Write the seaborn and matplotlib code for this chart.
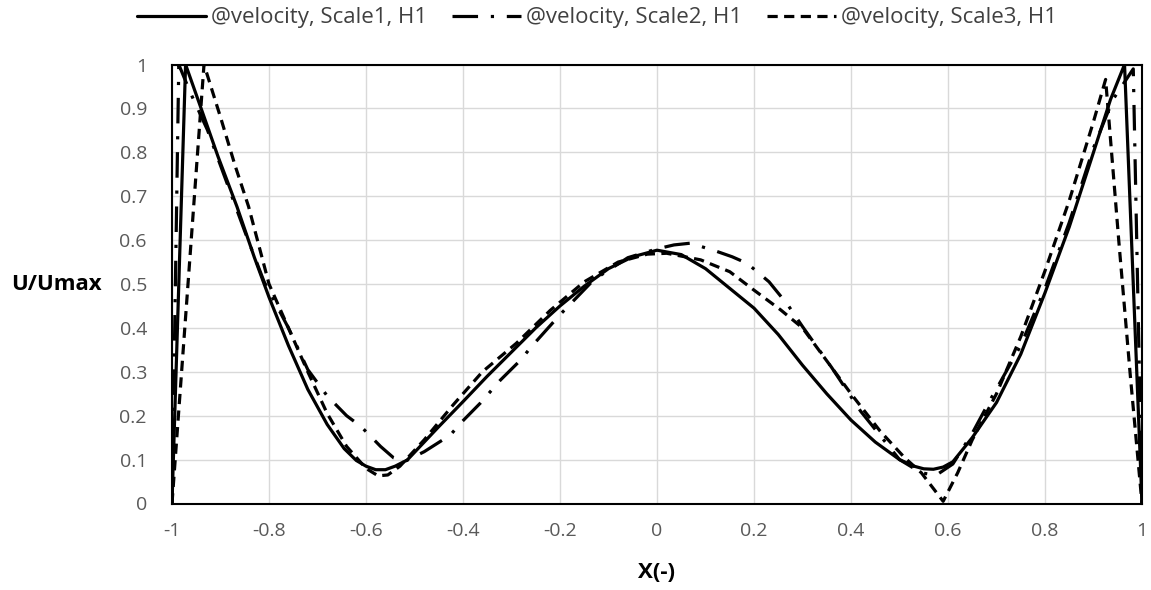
import matplotlib
matplotlib.use("Agg")
import matplotlib.pyplot as plt
import seaborn as sns
from matplotlib.ticker import FuncFormatter

# ---------------- data ----------------
series_labels = ["@velocity, Scale1, H1", "@velocity, Scale2, H1", "@velocity, Scale3, H1"]

x_scale1 = [-1.0, -0.972, -0.94, -0.905, -0.866, -0.83, -0.80, -0.76, -0.72, -0.68,
            -0.645, -0.62, -0.60, -0.58, -0.56, -0.54, -0.515, -0.45, -0.40, -0.35,
            -0.30, -0.25, -0.20, -0.15, -0.10, -0.05, 0.0, 0.05, 0.10, 0.15,
            0.20, 0.25, 0.30, 0.35, 0.40, 0.45, 0.50, 0.53, 0.55, 0.57,
            0.59, 0.61, 0.65, 0.70, 0.75, 0.80, 0.85, 0.90, 0.935, 0.964, 1.0]
y_scale1 = [0.0, 1.0, 0.9, 0.79, 0.676, 0.56, 0.47, 0.36, 0.26, 0.18,
            0.125, 0.098, 0.085, 0.077, 0.077, 0.085, 0.099, 0.175, 0.232, 0.29,
            0.345, 0.40, 0.45, 0.495, 0.535, 0.562, 0.577, 0.567, 0.535, 0.49,
            0.445, 0.385, 0.315, 0.25, 0.19, 0.14, 0.10, 0.085, 0.079, 0.078,
            0.083, 0.095, 0.15, 0.23, 0.34, 0.48, 0.63, 0.80, 0.92, 1.0, 0.0]

x_scale2 = [-1.0, -0.986, -0.963, -0.927, -0.89, -0.85, -0.81, -0.76, -0.72, -0.68,
            -0.64, -0.61, -0.57, -0.543, -0.52, -0.48, -0.426, -0.405, -0.364, -0.323,
            -0.281, -0.26, -0.20, -0.13, -0.06, 0.0, 0.035, 0.069, 0.124, 0.155,
            0.186, 0.231, 0.27, 0.30, 0.36, 0.42, 0.50, 0.545, 0.575, 0.61,
            0.65, 0.687, 0.708, 0.75, 0.80, 0.85, 0.90, 0.94, 0.982, 1.0]
y_scale2 = [0.0, 1.0, 0.938, 0.851, 0.74, 0.62, 0.505, 0.40, 0.305, 0.245,
            0.20, 0.175, 0.13, 0.104, 0.096, 0.118, 0.156, 0.183, 0.229, 0.281,
            0.327, 0.356, 0.43, 0.51, 0.56, 0.58, 0.589, 0.593, 0.574, 0.562,
            0.547, 0.505, 0.452, 0.403, 0.31, 0.21, 0.10, 0.07, 0.064, 0.09,
            0.16, 0.236, 0.277, 0.36, 0.49, 0.64, 0.81, 0.92, 0.99, 0.0]

x_scale3 = [-1.0, -0.934, -0.90, -0.87, -0.842, -0.80, -0.76, -0.72, -0.68, -0.64,
            -0.60, -0.575, -0.555, -0.53, -0.48, -0.42, -0.36, -0.29, -0.22, -0.15,
            -0.08, -0.02, 0.02, 0.09, 0.15, 0.20, 0.255, 0.30, 0.35, 0.40,
            0.46, 0.51, 0.545, 0.59, 0.62, 0.65, 0.70, 0.75, 0.80, 0.85,
            0.90, 0.925, 0.952, 0.976, 1.0]
y_scale3 = [0.0, 1.0, 0.88, 0.77, 0.676, 0.5, 0.4, 0.3, 0.205, 0.13,
            0.08, 0.063, 0.065, 0.085, 0.145, 0.225, 0.30, 0.365, 0.44, 0.505,
            0.55, 0.568, 0.57, 0.555, 0.528, 0.486, 0.441, 0.40, 0.325, 0.25,
            0.165, 0.105, 0.07, 0.005, 0.07, 0.145, 0.25, 0.38, 0.53, 0.69,
            0.87, 0.966, 0.6, 0.29, 0.0]

x_ticks = [-1, -0.8, -0.6, -0.4, -0.2, 0, 0.2, 0.4, 0.6, 0.8, 1]
y_ticks = [0, 0.1, 0.2, 0.3, 0.4, 0.5, 0.6, 0.7, 0.8, 0.9, 1]

# ---------------- styling ----------------
sns.set_style("white")
plt.rcParams["font.family"] = ["Open Sans", "DejaVu Sans"]

W, H = 1151, 590
fig = plt.figure(figsize=(W / 100, H / 100), dpi=100)
L, R, T, B = 172, 1142, 64.5, 503.5
ax = fig.add_axes([L / W, 1 - B / H, (R - L) / W, (B - T) / H])

dash_styles = [None, (8, 4, 1, 4), (3.2, 2.0)]
xs_all = [x_scale1, x_scale2, x_scale3]
ys_all = [y_scale1, y_scale2, y_scale3]

handles = []
for xs, ys, lab, dash in zip(xs_all, ys_all, series_labels, dash_styles):
    sns.lineplot(x=xs, y=ys, ax=ax, color="black", linewidth=2.3, sort=False,
                 estimator=None, label=lab, legend=False)
    line = ax.lines[-1]
    line.set_solid_joinstyle("round")
    line.set_dash_joinstyle("round")
    line.set_dash_capstyle("butt")
    if dash is not None:
        line.set_dashes(dash)
    handles.append(line)

ax.set_xlim(-1, 1)
ax.set_ylim(0, 1)
ax.set_xticks(x_ticks)
ax.set_yticks(y_ticks)
fmt = FuncFormatter(lambda v, p: f"{v:g}")
ax.xaxis.set_major_formatter(fmt)
ax.yaxis.set_major_formatter(fmt)
ax.grid(True, color="#d9d9d9", linewidth=1.0)
ax.set_axisbelow(True)
for s in ax.spines.values():
    s.set_color("black")
    s.set_linewidth(1.5)
ax.tick_params(axis="both", length=0, labelsize=14, labelcolor="#595959")
ax.tick_params(axis="x", pad=13)
ax.tick_params(axis="y", pad=18)

ax.set_xlabel("X(-)", fontsize=16, fontweight="bold", color="black")
ax.xaxis.set_label_coords(0.5, (B - 573) / (B - T))
ax.xaxis.label.set_va("center")
ax.set_ylabel("U/Umax", fontsize=16, fontweight="bold", color="black", rotation=0)
ax.yaxis.set_label_coords((56 - L) / (R - L), 0.5)
ax.yaxis.label.set_ha("center")
ax.yaxis.label.set_va("center")

fig.legend(handles, series_labels, loc="center", bbox_to_anchor=(597 / W, 1 - 18 / H),
           ncol=3, frameon=False, fontsize=16, handlelength=3.1, handletextpad=0.25,
           columnspacing=1.1, labelcolor="#404040")

fig.savefig("out.png", dpi=100)
